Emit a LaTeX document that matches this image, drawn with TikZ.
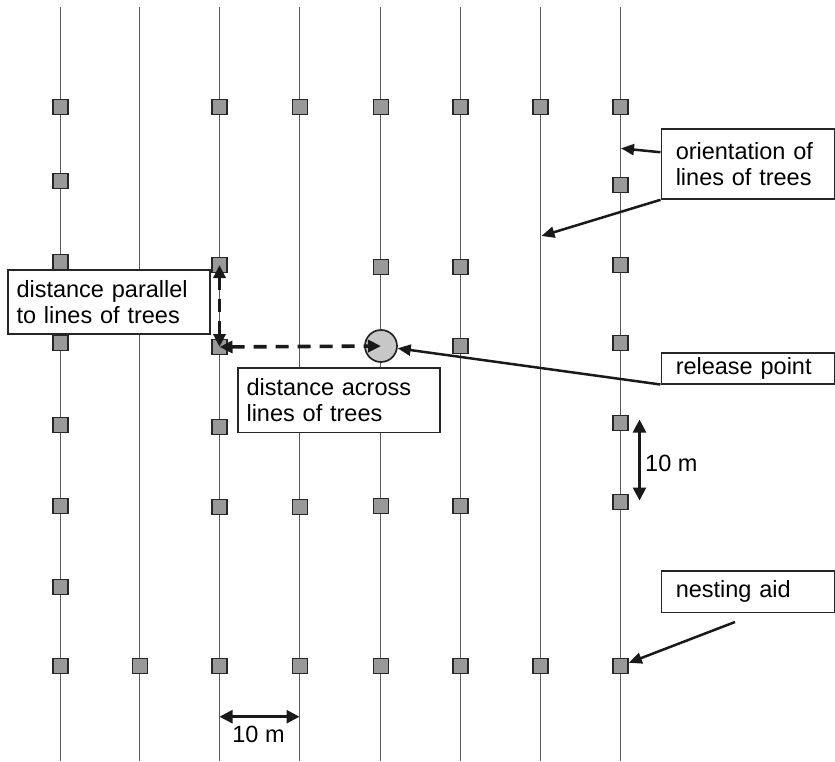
\documentclass[tikz,border=0pt]{standalone}
\usepackage{fontspec}
\setmainfont{Liberation Sans}
\usetikzlibrary{arrows.meta}
\begin{document}
\begin{tikzpicture}[x=1pt,y=-1pt,
  treeline/.style={line width=1pt,draw=black!65},
  aid/.style={rectangle,draw=black!85,line width=1.7pt,fill=black!40,minimum size=15pt,inner sep=0pt},
  relpt/.style={circle,draw=black!85,line width=1.7pt,fill=black!22,minimum size=32pt,inner sep=0pt},
  box/.style={rectangle,draw=black!85,line width=1.5pt,fill=white,anchor=north west,align=left,inner ysep=0pt,font=\fontsize{23.5}{26.5}\selectfont},
  lbl/.style={inner sep=0pt,font=\fontsize{23.5}{26.5}\selectfont},
  arr/.style={line width=2.5pt,draw=black!90,-{Triangle[length=13pt,width=11pt]}},
  dimarr/.style={line width=2.6pt,draw=black!90,{Triangle[length=13pt,width=13pt]}-{Triangle[length=13pt,width=13pt]}},
  dasharr/.style={line width=3.6pt,draw=black!90,dash pattern=on 13pt off 9pt,{Triangle[length=13pt,width=12pt]}-{Triangle[length=13pt,width=12pt]}}]
\useasboundingbox (0,0) rectangle (835,761);
% lines of trees
\foreach \x in {60.5,139.5,219.5,299.5,380.5,460.5,540.5,620.5}
  \draw[treeline] (\x,7) -- (\x,761);
% nesting aids
\foreach \x/\y/\n in {
  60.5/107/a1, 60.5/181/a2, 60.5/262/a3, 60.5/343/a4, 60.5/425/a5, 60.5/506/a6, 60.5/587/a7, 60.5/666/a8,
  140/666/b8,
  219.5/107/c1, 219.5/265/c3, 219.5/347/c4, 219.5/427/c5, 219.5/507/c6, 219.5/666/c8,
  300/107/d1, 300/507/d6, 300/666/d8,
  381/107/e1, 381/267/e3, 381/506/e6, 381/666/e8,
  460.5/107/f1, 460.5/267/f3, 460.5/346/f4, 460.5/506/f6, 460.5/666/f8,
  540.5/107/g1, 540.5/666/g8,
  620.5/107/h1, 620.5/185/h2, 620.5/265/h3, 620.5/343/h4, 620.5/423/h5, 620.5/502/h6, 620.5/666/h8}
  \node[aid] (\n) at (\x,\y) {};
% release point
\node[relpt] (rp) at (381,346) {};
% text boxes
\node[box,inner xsep=8.5pt,text width=185pt,minimum height=64pt] (par) at (7.3,269.3) {distance parallel\\to lines of trees};
\node[box,inner xsep=8.5pt,text width=185pt,minimum height=64.4pt] (acr) at (237.3,367.3) {distance across\\lines of trees};
\node[box,inner xsep=14.5pt,text width=144.5pt,minimum height=70pt] (orient) at (660.5,128.3) {orientation of\\lines of trees};
\node[box,inner xsep=14.5pt,text width=144.5pt,minimum height=31pt] (release) at (660.5,352) {release point};
\node[box,inner xsep=14.5pt,text width=144.5pt,minimum height=41.7pt] (nest) at (660.5,570) {nesting aid};
% connectors
\coordinate (o1) at (621,148.3);
\coordinate (o2) at (541.5,236);
\draw[arr] ([yshift=11.8pt]orient.west) -- (o1);
\draw[arr] (orient.south west) -- (o2);
\draw[arr] (release.south west) -- (rp);
\coordinate (ns) at (735,622);
\draw[arr] (ns) -- (h8);
% dashed distances
\draw[dasharr] (c3.center) -- (c4.center);
\draw[dasharr] (c4.center) -- (rp.center);
% 10 m dimensions
\coordinate (v1) at (639.5,419.5);
\coordinate (v2) at (639.5,500.5);
\draw[dimarr] (v1) -- (v2);
\node[lbl,anchor=base west] (lv) at (645,471) {10 m};
\coordinate (hh1) at (219.5,716.7);
\coordinate (hh2) at (299.5,716.7);
\draw[dimarr] (hh1) -- (hh2);
\node[lbl,anchor=base] (lh) at (258.5,742) {10 m};
\end{tikzpicture}
\end{document}
